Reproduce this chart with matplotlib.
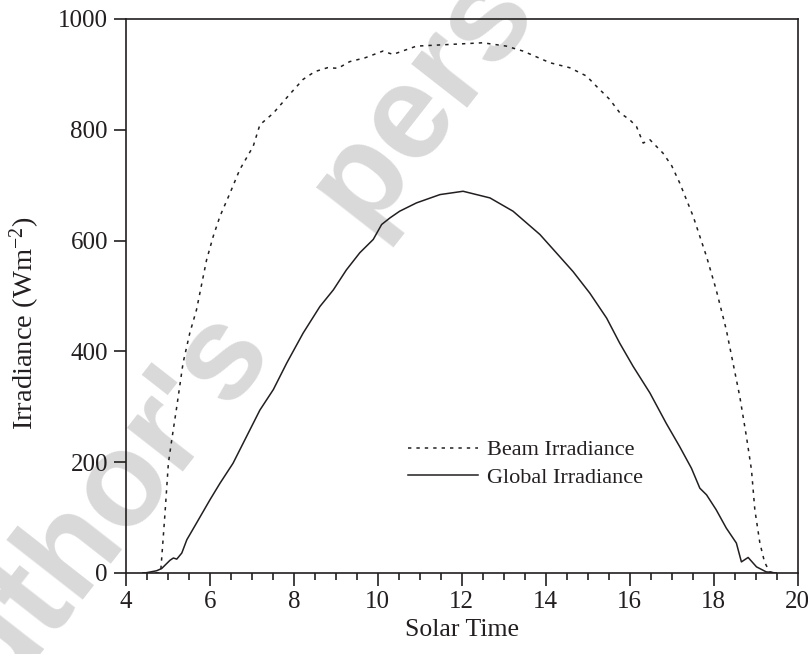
#!/usr/bin/env python3
"""
Beam and global irradiance over a clear day, plotted against solar time
"""

import matplotlib
matplotlib.use('Agg')
import matplotlib.pyplot as plt
from matplotlib.ticker import MultipleLocator

# Beam irradiance (dotted curve)
beam_time = [4.5, 4.8, 4.83, 4.93, 5.01, 5.09, 5.21, 5.36, 5.52, 5.68, 5.92, 6.08,
             6.24, 6.48, 6.71, 7.03, 7.19, 7.51, 7.9, 8.22, 8.5, 8.8, 9.05, 9.33,
             9.7, 10.12, 10.36, 10.92, 11.71, 12.5, 13.06, 13.46, 14.1, 14.57,
             14.97, 15.2, 15.52, 15.76, 16.0, 16.16, 16.32, 16.48, 16.79, 17.0,
             17.19, 17.51, 17.83, 18.06, 18.3, 18.46, 18.62, 18.78, 18.9, 18.98,
             19.1, 19.21, 19.33, 19.45]
beam_irr = [0, 0, 5, 108, 198, 240, 300, 379, 433, 475, 565, 608,
            644, 686, 728, 770, 809, 830, 864, 891, 905, 912, 911, 923,
            930, 942, 936, 951, 954, 957, 951, 942, 921, 912,
            897, 879, 855, 831, 818, 806, 776, 782, 758, 735,
            704, 644, 571, 511, 439, 379, 319, 246, 186, 114,
            54, 20, 2, 0]

# Global irradiance (solid curve)
global_time = [4.4, 4.49, 4.73, 4.85, 5.05, 5.13, 5.21, 5.33, 5.45, 5.68, 6.0, 6.24,
               6.55, 6.87, 7.19, 7.51, 7.83, 8.22, 8.62, 8.94, 9.25, 9.57, 9.89,
               10.09, 10.29, 10.52, 10.92, 11.48, 12.03, 12.67, 13.22, 13.86, 14.25,
               14.65, 15.05, 15.45, 15.76, 16.08, 16.48, 16.87, 17.19, 17.47, 17.67,
               17.83, 18.06, 18.3, 18.54, 18.66, 18.82, 19.02, 19.25, 19.49]
global_irr = [0, 0.5, 4, 8, 23, 27, 25, 36, 60, 90, 132, 162,
              198, 246, 294, 331, 379, 433, 481, 511, 547, 578, 602,
              629, 641, 653, 668, 683, 689, 677, 653, 611, 578,
              544, 505, 460, 415, 373, 325, 270, 228, 189, 153,
              141, 114, 81, 54, 20, 28, 11, 2, 0]

INK = '#231f20'
plt.rcParams['font.family'] = ['Liberation Serif', 'DejaVu Serif']
plt.rcParams['mathtext.fontset'] = 'custom'
plt.rcParams['mathtext.rm'] = 'Liberation Serif'
plt.rcParams['mathtext.default'] = 'regular'

fig = plt.figure(figsize=(8.08, 6.54), dpi=100)
fig.patch.set_facecolor('white')

# publisher watermark behind the plot
fig.text(-0.0736, -0.1957, "Author's    personal copy", fontsize=96, fontweight='bold',
         family='Liberation Sans', color='#d9d9d9', rotation=52,
         rotation_mode='anchor', ha='left', va='baseline', zorder=-1)

ax = fig.add_axes([0.1559, 0.1239, 0.8313, 0.8471])
ax.set_facecolor('none')

ax.plot(beam_time, beam_irr, color=INK, linewidth=1.1, dashes=(2.2, 3.3),
        label='Beam Irradiance')
ax.plot(global_time, global_irr, color=INK, linewidth=1.1,
        label='Global Irradiance')

ax.set_xlim(4, 20)
ax.set_ylim(0, 1000)
ax.xaxis.set_major_locator(MultipleLocator(2))
ax.xaxis.set_minor_locator(MultipleLocator(0.5))
ax.yaxis.set_major_locator(MultipleLocator(200))

for side in ax.spines.values():
    side.set_linewidth(1.2)
    side.set_color(INK)

ax.tick_params(axis='both', which='major', direction='out', length=9, width=1.2,
               labelsize=18, pad=4, colors=INK)
ax.tick_params(axis='x', which='minor', direction='out', length=4.8, width=1.2,
               colors=INK)

ax.set_xlabel('Solar Time', fontsize=18.5, color=INK)
ax.set_ylabel('Irradiance (Wm$^{-2}$)', fontsize=20.5, color=INK)
ax.yaxis.set_label_coords(-0.125, 0.45)

ax.legend(loc='center left', bbox_to_anchor=(0.42, 0.197), frameon=False,
          fontsize=16, handlelength=3.15, handletextpad=0.4, labelspacing=0.3,
          borderpad=0, borderaxespad=0, labelcolor=INK)

plt.savefig('out.png', dpi=100)
